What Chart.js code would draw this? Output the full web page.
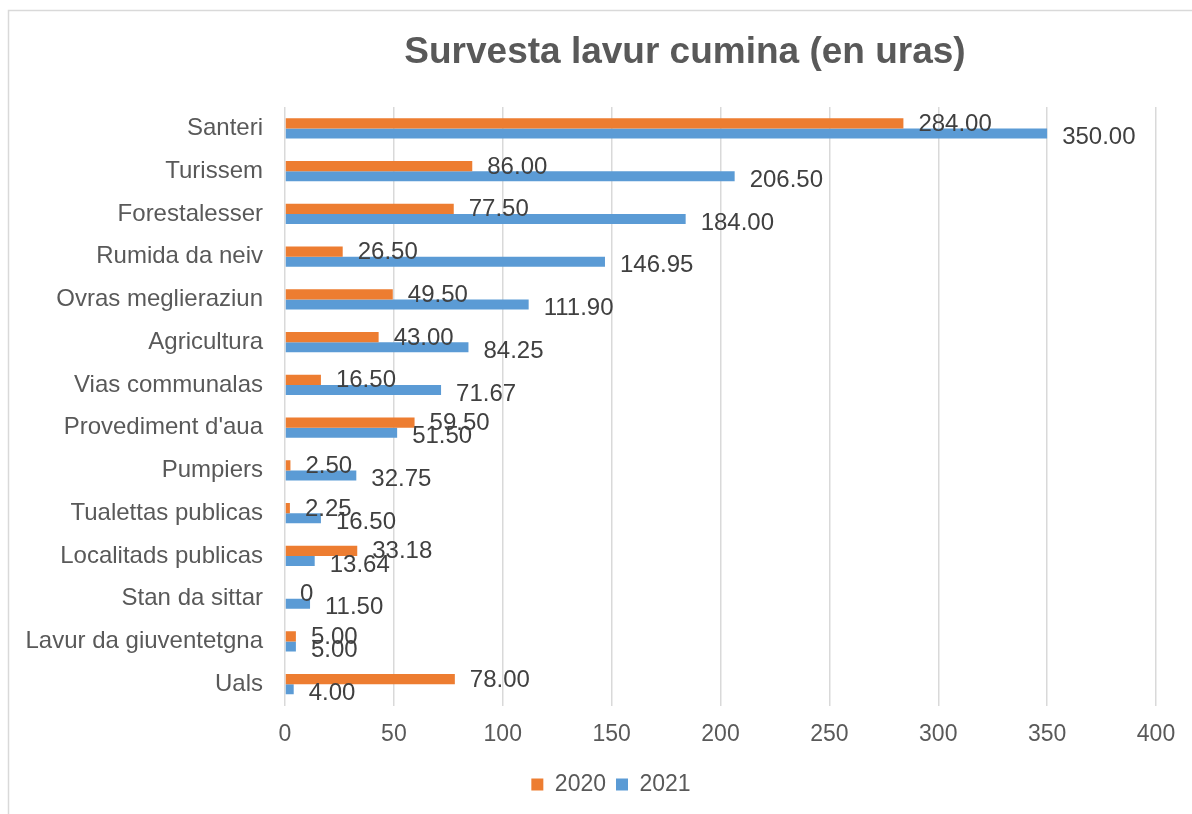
<!DOCTYPE html>
<html lang="rm">
<head>
    <meta charset="UTF-8">
    <title>Survesta lavur cumina (en uras)</title>
    <script src="https://cdn.jsdelivr.net/npm/chart.js"></script>
    <style>
        html, body { margin: 0; padding: 0; background: #fff; }
        #wrap { width: 1192px; height: 814px; }
    </style>
</head>
<body>
    <div id="wrap"><canvas id="lavurChart"></canvas></div>

    <script>
        // Datas
        const categorias = ['Santeri', 'Turissem', 'Forestalesser', 'Rumida da neiv', 'Ovras meglieraziun',
            'Agricultura', 'Vias communalas', "Provediment d'aua", 'Pumpiers', 'Tualettas publicas',
            'Localitads publicas', 'Stan da sittar', 'Lavur da giuventetgna', 'Uals'];
        const uras2020 = [284, 86, 77.5, 26.5, 49.5, 43, 16.5, 59.5, 2.5, 2.25, 33.18, 0, 5, 78];
        const uras2021 = [350, 206.5, 184, 146.95, 111.9, 84.25, 71.67, 51.5, 32.75, 16.5, 13.64, 11.5, 5, 4];
        const ticksX = [0, 50, 100, 150, 200, 250, 300, 350, 400];

        const fontFamily = '"Liberation Sans", Arial, sans-serif';
        const textColor = '#595959';

        // frame + titel, e spustar la legenda
        const framePlugin = {
            id: 'frame',
            afterLayout(chart) {
                chart.legend.left += 29;
                chart.legend.right += 29;
            },
            beforeDraw(chart) {
                const ctx = chart.ctx;
                ctx.save();
                ctx.strokeStyle = '#d9d9d9';
                ctx.lineWidth = 1.5;
                ctx.strokeRect(8.5, 10.5, 1400, 1000);
                ctx.restore();
            },
            afterDraw(chart) {
                const ctx = chart.ctx;
                ctx.save();
                ctx.font = 'bold 37px ' + fontFamily;
                ctx.fillStyle = textColor;
                ctx.textAlign = 'center';
                ctx.textBaseline = 'middle';
                ctx.fillText('Survesta lavur cumina (en uras)', 685, 53);
                ctx.restore();
            }
        };

        // etichettas da las valurs
        const valuePlugin = {
            id: 'valurs',
            afterDatasetsDraw(chart) {
                const ctx = chart.ctx;
                ctx.save();
                ctx.font = '24px ' + fontFamily;
                ctx.fillStyle = '#404040';
                ctx.textAlign = 'left';
                ctx.textBaseline = 'middle';
                chart.data.datasets.forEach((ds, di) => {
                    chart.getDatasetMeta(di).data.forEach((bar, i) => {
                        const v = ds.data[i];
                        const txt = v === 0 ? '0' : v.toFixed(2);
                        ctx.fillText(txt, bar.x + 15, bar.y + (di === 0 ? 1 : 4));
                    });
                });
                ctx.restore();
            }
        };

        const ctx = document.getElementById('lavurChart').getContext('2d');
        new Chart(ctx, {
            type: 'bar',
            data: {
                labels: categorias,
                datasets: [
                    { label: '2020', data: uras2020, backgroundColor: '#ED7D31' },
                    { label: '2021', data: uras2021, backgroundColor: '#5B9BD5' }
                ]
            },
            options: {
                indexAxis: 'y',
                responsive: true,
                maintainAspectRatio: false,
                animation: false,
                categoryPercentage: 0.47,
                barPercentage: 1,
                layout: { padding: { top: 107, left: 8, right: 36, bottom: 8 } },
                scales: {
                    x: {
                        min: 0,
                        max: 400,
                        afterBuildTicks(scale) { scale.ticks = ticksX.map(v => ({ value: v })); },
                        afterFit(scale) { scale.height = 57.5; },
                        grid: { color: '#d9d9d9', lineWidth: 1.5, drawTicks: false },
                        border: { display: false },
                        ticks: { padding: 15, color: textColor, font: { size: 23, family: fontFamily } }
                    },
                    y: {
                        afterFit(scale) { scale.width = 277; },
                        grid: { display: false },
                        border: { display: false },
                        ticks: { padding: 14, color: textColor, font: { size: 24, family: fontFamily } }
                    }
                },
                plugins: {
                    title: { display: false },
                    tooltip: { enabled: false },
                    legend: {
                        position: 'bottom',
                        labels: {
                            boxWidth: 12, boxHeight: 12, padding: 10,
                            color: textColor,
                            font: { size: 23, family: fontFamily }
                        }
                    }
                }
            },
            plugins: [framePlugin, valuePlugin]
        });
    </script>
</body>
</html>
